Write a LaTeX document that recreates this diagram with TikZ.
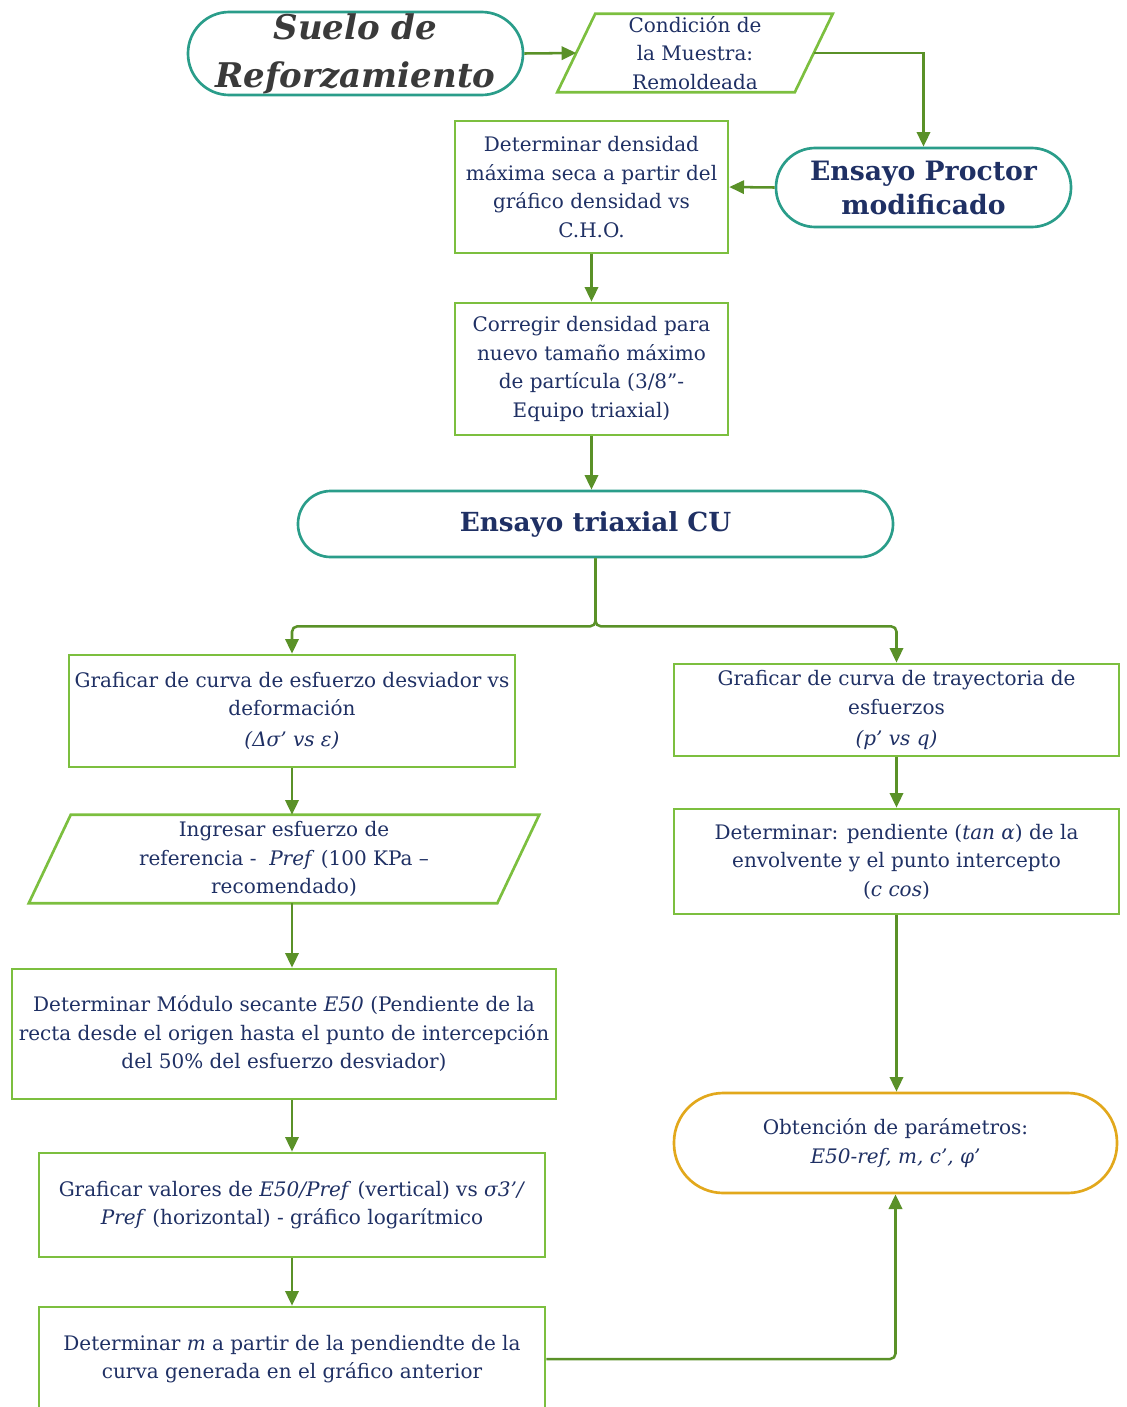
\documentclass[tikz,border=0pt]{standalone}
\usepackage{fontspec}
\setmainfont{DejaVu Serif}
\usetikzlibrary{arrows.meta,calc}
\definecolor{navy}{HTML}{1F3064}
\definecolor{teal}{HTML}{2A9D8A}
\definecolor{boxgreen}{HTML}{7CBF3F}
\definecolor{arrgreen}{HTML}{5A9128}
\definecolor{gold}{HTML}{E2A81C}
\definecolor{darkgray}{HTML}{3A3A3A}
\newcommand{\prm}{\char"0027}
\tikzset{
  body/.style={font=\fontsize{15}{21.4}\selectfont, text=navy, align=center, inner sep=0pt},
  procbox/.style={body, draw=boxgreen, line width=2pt, rectangle},
  terminal/.style={draw=teal, line width=2pt, rectangle, align=center, inner sep=0pt},
  datain/.style={body, rectangle},
  para/.style={draw=boxgreen, line width=2pt, line join=miter},
  arr/.style={draw=arrgreen, line width=1.9pt, -{Triangle[length=11pt,width=10pt]}},
}
\begin{document}
\begin{tikzpicture}[x=0.75pt,y=-0.75pt]
\useasboundingbox (0,0) rectangle (1127,1407);

% --- top row ---
\node[terminal, rounded corners=31pt, minimum width=251.25pt, minimum height=62.25pt, text=darkgray,
      font=\fontsize{25.5}{33}\selectfont\bfseries\itshape] (suelo) at (355.5,53.5)
      {\raisebox{3pt}{Suelo de}\\Reforzamiento};
\node[datain, minimum width=177.75pt, minimum height=58.5pt] (cond) at (695,53)
      {Condición de\\la Muestra:\\Remoldeada};
\draw[para] ($(cond.north west)+(19,0)$) -- ($(cond.north east)+(19,0)$)
      -- ($(cond.south east)+(-19,0)$) -- ($(cond.south west)+(-19,0)$) -- cycle;
\node[terminal, rounded corners=29.5pt, minimum width=221.25pt, minimum height=59.25pt, text=navy,
      font=\fontsize{20}{25.5}\selectfont\bfseries] (proctor) at (923.5,187.5)
      {Ensayo Proctor\\modificado};

% --- density column ---
\node[procbox, minimum width=204.75pt, minimum height=99pt] (dens) at (591.5,187)
      {Determinar densidad\\máxima seca a partir del\\gráfico densidad vs\\C.H.O.};
\node[procbox, minimum width=204.75pt, minimum height=99pt] (corr) at (591.5,369)
      {Corregir densidad para\\nuevo tamaño máximo\\de partícula (3/8”-\\Equipo triaxial)};
\node[terminal, rounded corners=24.5pt, minimum width=446.25pt, minimum height=49.5pt, text=navy,
      font=\fontsize{19.7}{25.5}\selectfont\bfseries] (tri) at (595.5,524)
      {Ensayo triaxial CU};

% --- left branch ---
\node[procbox, minimum width=334.5pt, minimum height=84pt] (curva) at (292,711)
      {Graficar de curva de esfuerzo desviador vs\\deformación\\[2pt]\textit{(Δσ\prm{} vs ε)}};
\node[datain, minimum width=351pt, minimum height=66pt] (pref) at (284,859)
      {Ingresar esfuerzo de\\referencia -\ \ \textit{Pref} (100 KPa –\\recomendado)};
\draw[para] ($(pref.north west)+(21,0)$) -- ($(pref.north east)+(21,0)$)
      -- ($(pref.south east)+(-21,0)$) -- ($(pref.south west)+(-21,0)$) -- cycle;
\node[procbox, minimum width=408pt, minimum height=97.5pt] (modulo) at (284,1034)
      {Determinar Módulo secante \textit{E50} (Pendiente de la\\recta desde el origen hasta el punto de intercepción\\del 50\% del esfuerzo desviador)};
\node[procbox, minimum width=379.5pt, minimum height=78pt] (valores) at (292,1205)
      {Graficar valores de \textit{E50/Pref} (vertical) vs \textit{σ3\prm/}\\\textit{Pref} (horizontal) - gráfico logarítmico};
\node[procbox, minimum width=379.5pt, minimum height=78pt] (mdet) at (292,1359)
      {Determinar \textit{m} a partir de la pendiendte de la\\curva generada en el gráfico anterior};

% --- right branch ---
\node[procbox, minimum width=333.75pt, minimum height=69pt] (tray) at (896.5,710)
      {Graficar de curva de trayectoria de\\esfuerzos\\[2pt]\textit{(p\prm{} vs q)}};
\node[procbox, minimum width=333.75pt, minimum height=78.75pt] (pend) at (896.5,861.5)
      {Determinar: pendiente (\textit{tan α}) de la\\envolvente y el punto intercepto\\(\textit{c cos})};
\node[terminal, rounded corners=37pt, draw=gold, body, minimum width=332.25pt, minimum height=75pt] (param) at (895.5,1143)
      {Obtención de parámetros:\\\textit{E50-ref, m, c\prm, φ\prm}};

% --- connectors ---
\draw[arr] (suelo.east) -- (cond.west);
\draw[arr] (cond.east) -| (proctor.north);
\draw[arr] (proctor.west) -- (dens.east);
\draw[arr] (dens.south) -- (corr.north);
\draw[arr] (corr.south) -- (corr.south |- tri.north);
\coordinate (split) at ($(tri.south)+(0,68)$);
\draw[arr, rounded corners=4pt] (tri.south) -- (split) -| (curva.north);
\draw[arr, rounded corners=4pt] (tri.south) -- (split) -| (tray.north);
\draw[arr] (curva.south) -- (curva.south |- pref.north);
\draw[arr] (curva.south |- pref.south) -- (curva.south |- modulo.north);
\draw[arr] (curva.south |- modulo.south) -- (valores.north);
\draw[arr] (valores.south) -- (mdet.north);
\draw[arr] (tray.south) -- (pend.south |- pend.north);
\draw[arr] (pend.south) -- (pend.south |- param.north);
\draw[arr, rounded corners=4pt] (mdet.east) -| (param.south);
\end{tikzpicture}
\end{document}
